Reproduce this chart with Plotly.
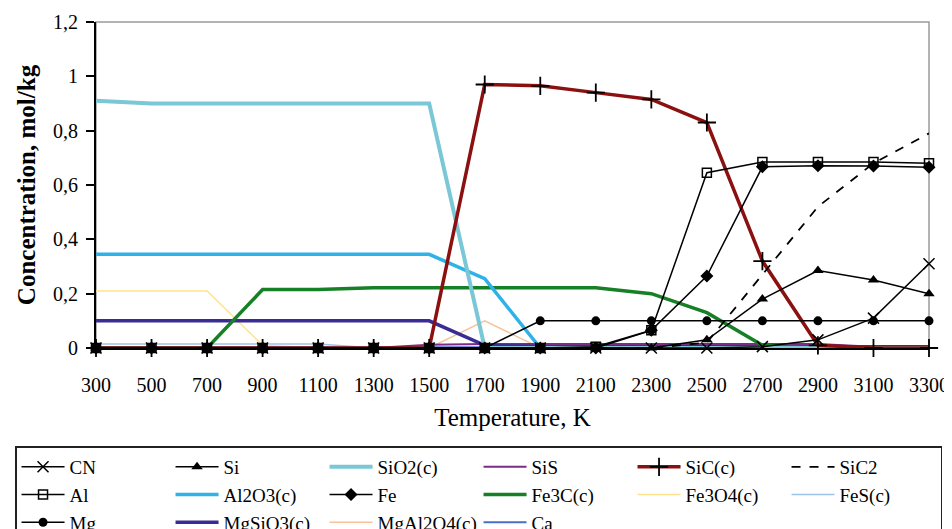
import plotly.graph_objects as go

# ---- data ----
temperature = [300, 500, 700, 900, 1100, 1300, 1500, 1700, 1900, 2100, 2300, 2500, 2700, 2900, 3100, 3300]
x_tick_labels = ["300", "500", "700", "900", "1100", "1300", "1500", "1700", "1900", "2100",
                 "2300", "2500", "2700", "2900", "3100", "3300"]
y_tick_values = [0, 0.2, 0.4, 0.6, 0.8, 1.0, 1.2]
y_tick_labels = ["0", "0,2", "0,4", "0,6", "0,8", "1", "1,2"]

cn       = [0, 0, 0, 0, 0, 0, 0, 0, 0, 0, 0, 0, 0.005, 0.03, 0.11, 0.31]
si       = [0, 0, 0, 0, 0, 0, 0, 0, 0, 0, 0, 0.03, 0.18, 0.285, 0.25, 0.20]
sio2     = [0.91, 0.90, 0.90, 0.90, 0.90, 0.90, 0.90, 0, 0, 0, 0, 0, 0, 0, 0, 0]
sis      = [0, 0, 0, 0, 0, 0, 0.012, 0.015, 0.015, 0.015, 0.015, 0.015, 0.015, 0.015, 0.005, 0]
sic      = [0, 0, 0, 0, 0, 0, 0, 0.97, 0.965, 0.94, 0.915, 0.83, 0.32, 0.01, 0, 0]
sic2     = [0, 0, 0, 0, 0, 0, 0, 0, 0, 0, 0, 0.02, 0.27, 0.52, 0.68, 0.79]
al       = [0, 0, 0, 0, 0, 0, 0, 0, 0, 0.005, 0.065, 0.645, 0.685, 0.685, 0.685, 0.68]
al2o3    = [0.345, 0.345, 0.345, 0.345, 0.345, 0.345, 0.345, 0.255, 0, 0, 0, 0, 0, 0, 0, 0]
fe       = [0, 0, 0, 0, 0, 0, 0, 0, 0, 0, 0.065, 0.265, 0.667, 0.671, 0.67, 0.665]
fe3c     = [0, 0, 0, 0.215, 0.215, 0.222, 0.222, 0.222, 0.222, 0.222, 0.20, 0.13, 0.01, 0, 0, 0]
fe3o4    = [0.21, 0.21, 0.21, 0.01, 0, 0, 0, 0, 0, 0, 0, 0, 0, 0, 0, 0]
fes      = [0.015, 0.015, 0.015, 0.015, 0.015, 0, 0, 0, 0, 0, 0, 0, 0, 0, 0, 0]
mg       = [0, 0, 0, 0, 0, 0, 0, 0, 0.1, 0.1, 0.1, 0.1, 0.1, 0.1, 0.1, 0.1]
mgsio3   = [0.1, 0.1, 0.1, 0.1, 0.1, 0.1, 0.1, 0.01, 0.005, 0.005, 0.005, 0.005, 0.005, 0.005, 0.005, 0.005]
mgal2o4  = [0, 0, 0, 0, 0, 0, 0, 0.1, 0, 0, 0, 0, 0, 0, 0, 0]
ca       = [0.003, 0.003, 0.003, 0.003, 0.003, 0.003, 0.003, 0.003, 0.003, 0.003, 0.003, 0.003, 0.003, 0.003, 0.003, 0.003]

legend_order = ["CN", "Si", "SiO2(c)", "SiS", "SiC(c)", "SiC2",
                "Al", "Al2O3(c)", "Fe", "Fe3C(c)", "Fe3O4(c)", "FeS(c)",
                "Mg", "MgSiO3(c)", "MgAl2O4(c)", "Ca"]

FONT = "Liberation Serif, Times New Roman, serif"

fig = go.Figure()


def add(name, y, color, width, dash="solid", symbol=None, msize=9, mline=0, mcolor=None):
    kw = dict(x=temperature, y=y, name=name, legendrank=legend_order.index(name) + 1,
              line=dict(color=color, width=width, dash=dash), cliponaxis=False)
    if symbol is None:
        kw["mode"] = "lines"
    else:
        kw["mode"] = "lines+markers"
        mc = mcolor or "black"
        kw["marker"] = dict(symbol=symbol, size=msize, color=mc,
                            line=dict(color=mc, width=mline))
    fig.add_trace(go.Scatter(**kw))


# colored (no marker) series first
add("FeS(c)", fes, "#9DC3E6", 1.5)
add("Fe3O4(c)", fe3o4, "#FFE38C", 1.5)
add("MgAl2O4(c)", mgal2o4, "#F7C39A", 1.5)
add("Ca", ca, "#4A6FC6", 2)
add("SiS", sis, "#7D2B8B", 2)
add("MgSiO3(c)", mgsio3, "#3A2C95", 3.5)
add("Fe3C(c)", fe3c, "#168026", 3.5)
add("Al2O3(c)", al2o3, "#2EB2E8", 3.5)
add("SiO2(c)", sio2, "#7AC7D6", 4)
add("SiC(c)", sic, "#8B1010", 3.5, symbol="cross-thin", msize=13, mline=1.8, mcolor="black")
add("SiC2", sic2, "black", 1.8, dash="dash")
# black marker series
add("Mg", mg, "black", 1.5, symbol="circle", msize=9)
add("Fe", fe, "black", 1.5, symbol="diamond", msize=10)
add("Al", al, "black", 1.5, symbol="square-open", msize=9, mline=1.5)
add("Si", si, "black", 1.5, symbol="triangle-up", msize=10)
add("CN", cn, "black", 1.5, symbol="x-thin", msize=11, mline=1.5)

# the page body has an 8px margin, so the figure is 8px smaller and offset
fig.update_layout(
    width=944, height=521,
    margin=dict(l=88, r=23, t=14, b=181, autoexpand=False),
    paper_bgcolor="white", plot_bgcolor="white",
    font=dict(family=FONT, color="black", size=20),
    showlegend=True,
    legend=dict(
        orientation="h",
        x=-0.0972, xanchor="left",
        y=-0.302, yanchor="top",
        bordercolor="#222", borderwidth=1.5, bgcolor="white",
        font=dict(family=FONT, size=19, color="black"),
        itemwidth=43,
        entrywidth=96, entrywidthmode="pixels",
        traceorder="normal",
        itemclick=False,
    ),
    shapes=[dict(type="rect", xref="paper", yref="paper", x0=0, x1=1, y0=0, y1=1,
                 line=dict(color="#9a9a9a", width=1.5), layer="below")],
)

fig.update_xaxes(
    range=[300, 3300], tickvals=temperature, ticktext=x_tick_labels,
    showgrid=False, zeroline=False, showline=True, linecolor="black", linewidth=1.5,
    ticks="", ticklabelstandoff=18,
    tickfont=dict(family=FONT, size=20),
    title=dict(text="Temperature, K", font=dict(family=FONT, size=25), standoff=14),
)
fig.update_yaxes(
    range=[0, 1.2], tickvals=y_tick_values, ticktext=y_tick_labels,
    showgrid=False, zeroline=False, showline=True, linecolor="black", linewidth=2,
    ticks="outside", ticklen=8, tickwidth=1.5, tickcolor="black",
    ticklabelstandoff=4,
    tickfont=dict(family=FONT, size=20),
    title=dict(text="<b>Concentration, mol/kg</b>", font=dict(family=FONT, size=25), standoff=10),
)

fig.write_html("out.html")
